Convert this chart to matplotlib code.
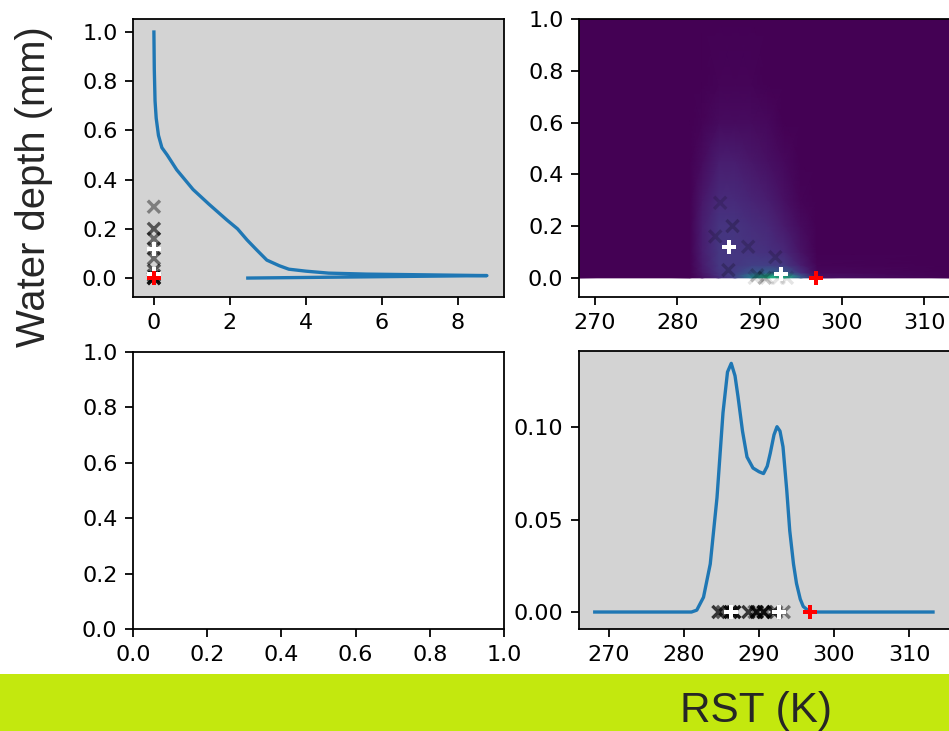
import numpy as np
import matplotlib
matplotlib.use('Agg')
import matplotlib.pyplot as plt
from matplotlib.patches import Rectangle

# ---------------- Daten ----------------
# Wassertiefe-Dichte (oben links): Tiefe (mm) und Dichte
depth_curve = [0.0, 0.010, 0.013, 0.016, 0.020, 0.028, 0.036, 0.050, 0.073, 0.115,
               0.155, 0.200, 0.236, 0.300, 0.360, 0.440, 0.500, 0.530, 0.580, 0.650,
               0.720, 0.850, 1.0]
depth_dens = [2.47, 8.76, 7.2, 5.6, 4.6, 4.0, 3.55, 3.3, 2.97, 2.7,
              2.45, 2.2, 1.92, 1.45, 1.03, 0.6, 0.35, 0.21, 0.12, 0.06,
              0.03, 0.01, 0.0]

# RST-Dichte (unten rechts)
rst_curve = [268.1, 281.0, 281.7, 282.6, 283.5, 284.4, 285.2, 285.8, 286.3, 286.8,
             287.2, 287.8, 288.4, 289.2, 290.0, 290.6, 291.1, 291.5, 292.0, 292.4,
             292.8, 293.2, 293.7, 294.1, 294.6, 295.0, 295.5, 295.9, 296.8, 313.2]
rst_dens = [0.0, 0.0, 0.001, 0.008, 0.026, 0.062, 0.108, 0.130, 0.1347, 0.128,
            0.1167, 0.098, 0.084, 0.078, 0.076, 0.075, 0.079, 0.086, 0.096, 0.1004,
            0.098, 0.0895, 0.066, 0.044, 0.026, 0.0155, 0.007, 0.003, 0.0, 0.0]

# Beobachtungen (RST, Tiefe)
obs_rst = [285.2, 286.7, 284.6, 288.6, 286.2, 291.9, 289.7, 290.6, 289.4, 290.9, 292.3, 293.3]
obs_depth = [0.29, 0.20, 0.16, 0.12, 0.03, 0.08, 0.01, 0.0, 0.0, 0.0, 0.0, 0.0]
obs_alpha = [0.4, 0.6, 0.5, 0.5, 0.6, 0.5, 0.6, 0.6, 0.3, 0.3, 0.3, 0.3]

# Moden (weiss) und Referenz (rot)
mode_rst = [286.3, 292.6]
mode_depth = [0.12, 0.015]
ref_rst = [296.8]
ref_depth = [0.0]

grid_rst = [268.0, 281.5, 283.0, 285.0, 287.0, 289.0, 291.0, 293.0, 295.0, 297.0, 313.6]
grid_depth = [0.0, 0.008, 0.02, 0.05, 0.1, 0.2, 0.3, 0.45, 0.6, 0.75, 1.0]
grid_val = [
    [0, 0, 0.04, 0.12, 0.18, 0.40, 0.62, 0.62, 0.28, 0.04, 0],
    [0, 0, 0.05, 0.14, 0.20, 0.42, 0.60, 0.60, 0.26, 0.04, 0],
    [0, 0, 0.06, 0.15, 0.18, 0.26, 0.32, 0.30, 0.14, 0.02, 0],
    [0, 0, 0.07, 0.16, 0.16, 0.18, 0.18, 0.16, 0.08, 0.01, 0],
    [0, 0, 0.08, 0.16, 0.16, 0.15, 0.14, 0.11, 0.05, 0.00, 0],
    [0, 0, 0.08, 0.15, 0.15, 0.13, 0.11, 0.07, 0.03, 0.00, 0],
    [0, 0, 0.06, 0.12, 0.12, 0.10, 0.08, 0.04, 0.01, 0.00, 0],
    [0, 0, 0.03, 0.08, 0.08, 0.06, 0.04, 0.02, 0.00, 0.00, 0],
    [0, 0, 0.01, 0.03, 0.03, 0.03, 0.02, 0.00, 0.00, 0.00, 0],
    [0, 0, 0.00, 0.01, 0.01, 0.01, 0.00, 0.00, 0.00, 0.00, 0],
    [0, 0, 0.00, 0.00, 0.00, 0.00, 0.00, 0.00, 0.00, 0.00, 0],
]

# ---------------- Figur ----------------
W, H, DPI = 949, 731, 160
fig = plt.figure(figsize=(W / DPI, H / DPI), dpi=DPI)

def pos(x0, y0, x1, y1):
    # Pixel -> Figurkoordinaten
    return [x0 / W, 1 - y1 / H, (x1 - x0) / W, (y1 - y0) / H]

ax_tl = fig.add_axes(pos(133, 19, 504, 297))
ax_tr = fig.add_axes(pos(579, 19, 954, 297))
ax_bl = fig.add_axes(pos(133, 352, 504, 629))
ax_br = fig.add_axes(pos(579, 351, 954, 629))

mode_kw = dict(linestyle='none', marker='+', ms=6, mew=1.8)

# oben links
ax_tl.set_facecolor('lightgray')
ax_tl.plot(depth_dens, depth_curve, color='C0', lw=1.5)
ax_tl.scatter(np.zeros(len(obs_depth)), obs_depth, marker='x', s=30, color='k', alpha=obs_alpha)
ax_tl.plot(np.zeros(len(mode_depth)), mode_depth, color='w', **mode_kw)
ax_tl.plot(np.zeros(len(ref_depth)), ref_depth, color='red', **mode_kw)
ax_tl.set_xlim(-0.55, 9.21)
ax_tl.set_ylim(-0.077, 1.053)

# oben rechts
X, Y = np.meshgrid(grid_rst, grid_depth)
ax_tr.pcolormesh(X, Y, np.array(grid_val), shading='gouraud', cmap='viridis', vmin=0, vmax=1)
ax_tr.scatter(obs_rst, obs_depth, marker='x', s=30, color='k',
              alpha=[a * 0.35 for a in obs_alpha])
ax_tr.plot(mode_rst, mode_depth, color='w', **mode_kw)
ax_tr.plot(ref_rst, ref_depth, color='red', **mode_kw)
ax_tr.set_xlim(268.05, 313.6)
ax_tr.set_ylim(-0.074, 1.0)

# unten links leer
ax_bl.set_xlim(0, 1)
ax_bl.set_ylim(0, 1)

# unten rechts
ax_br.set_facecolor('lightgray')
ax_br.plot(rst_curve, rst_dens, color='C0', lw=1.5)
ax_br.scatter(obs_rst, np.zeros(len(obs_rst)), marker='x', s=30, color='k',
              alpha=[min(1, a * 1.5) for a in obs_alpha])
ax_br.plot(mode_rst, np.zeros(len(mode_rst)), color='w', **mode_kw)
ax_br.plot(ref_rst, np.zeros(len(ref_rst)), color='red', **mode_kw)
ax_br.set_xlim(266.0, 316.0)
ax_br.set_ylim(-0.0092, 0.1414)

# gruener Balken unten + Beschriftungen
fig.add_artist(Rectangle((0, 0), 1, 57 / H, transform=fig.transFigure,
                         facecolor='#c3e80e', edgecolor='none'))
fig.text(756 / W, 1 - 722 / H, 'RST (K)', ha='center', va='baseline', fontsize=19,
         color='#262626', family=['Liberation Sans', 'DejaVu Sans'])
fig.text(34 / W, 1 - 187 / H, 'Water depth (mm)', rotation=90, ha='center', va='center',
         fontsize=18, color='#262626', family=['Liberation Sans', 'DejaVu Sans'])

fig.savefig('out.png', dpi=DPI)
